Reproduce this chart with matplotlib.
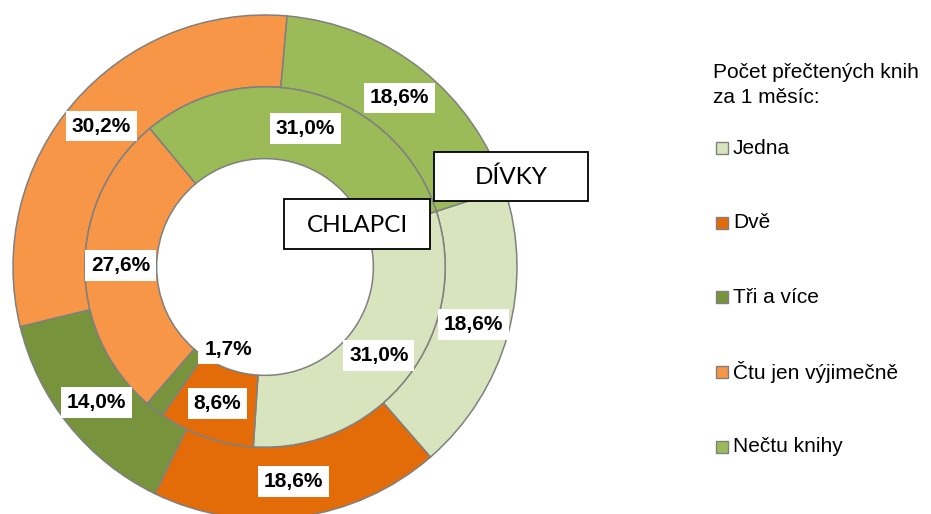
import matplotlib
matplotlib.use('Agg')
import matplotlib.pyplot as plt
from matplotlib.patches import Rectangle
import numpy as np

# Data (percent of pupils)
categories = ['Jedna', 'Dvě', 'Tři a více', 'Čtu jen výjimečně', 'Nečtu knihy']
divky = [18.6, 18.6, 14.0, 30.2, 18.6]      # outer ring
chlapci = [31.0, 8.6, 1.7, 27.6, 31.0]      # inner ring
colors = ['#D7E4BD', '#E36C09', '#77933C', '#F79646', '#9BBB59']
legend_title = 'Počet přečtených knih\nza 1 měsíc:'

W, H = 931, 514
fig = plt.figure(figsize=(W / 100, H / 100), dpi=100)

# Pie axes: center (265, 267) px, outer radius 252 px
cx, cy, R = 265, 267, 252
ax = fig.add_axes([(cx - R) / W, (H - cy - R) / H, 2 * R / W, 2 * R / H])

edge = dict(edgecolor='#808080', linewidth=1.1)
ring = 0.285
outer, _ = ax.pie(divky, radius=1.0, colors=colors, startangle=18, counterclock=False,
                  wedgeprops=dict(width=ring, **edge))
inner, _ = ax.pie(chlapci, radius=1.0 - ring, colors=colors, startangle=18, counterclock=False,
                  wedgeprops=dict(width=ring, **edge))
ax.set_xlim(-1, 1)
ax.set_ylim(-1, 1)
ax.axis('off')

lbl_font = dict(family=['Liberation Sans', 'DejaVu Sans'], fontsize=15, fontweight='bold')
box = dict(boxstyle='square,pad=0.28', facecolor='white', edgecolor='none')


def label_wedges(wedges, values, offsets=None):
    for i, (w, v) in enumerate(zip(wedges, values)):
        ang = np.deg2rad((w.theta1 + w.theta2) / 2)
        r = w.r - w.width / 2
        off = (0, 0) if offsets is None else offsets.get(i, (0, 0))
        ax.annotate(f'{v:.1f}%'.replace('.', ','), xy=(r * np.cos(ang), r * np.sin(ang)),
                    xytext=off, textcoords='offset points', ha='center', va='center',
                    bbox=box, zorder=5, **lbl_font)


label_wedges(outer, divky)
# the tiny 1,7 % slice gets its label pushed into the hole
label_wedges(inner, chlapci, offsets={2: (37, 23)})

# Overlay axes in pixel coordinates for the ring names and the legend
ov = fig.add_axes([0, 0, 1, 1])
ov.set_xlim(0, W)
ov.set_ylim(H, 0)
ov.axis('off')
ov.patch.set_alpha(0)

name_font = dict(family=['Lato', 'DejaVu Sans'], fontsize=17.5)
ov.add_patch(Rectangle((434, 152), 154, 49, facecolor='white', edgecolor='black', lw=1.3))
ov.text(511, 177, 'DÍVKY', ha='center', va='center', **name_font)
ov.add_patch(Rectangle((284, 199), 146, 50, facecolor='white', edgecolor='black', lw=1.3))
ov.text(357, 225, 'CHLAPCI', ha='center', va='center', **name_font)

# Legend
leg_font = dict(family=['Liberation Sans', 'DejaVu Sans'], fontsize=15)
ov.text(713, 85, legend_title, ha='left', va='center', linespacing=1.35, **leg_font)
for i, (cat, col) in enumerate(zip(categories, colors)):
    y = 148 + i * 74.7
    ov.add_patch(Rectangle((716, y - 6), 12, 12, facecolor=col, edgecolor='#808080', lw=1.0))
    ov.text(733, y, cat, ha='left', va='center', **leg_font)

fig.savefig('out.png', dpi=100)
